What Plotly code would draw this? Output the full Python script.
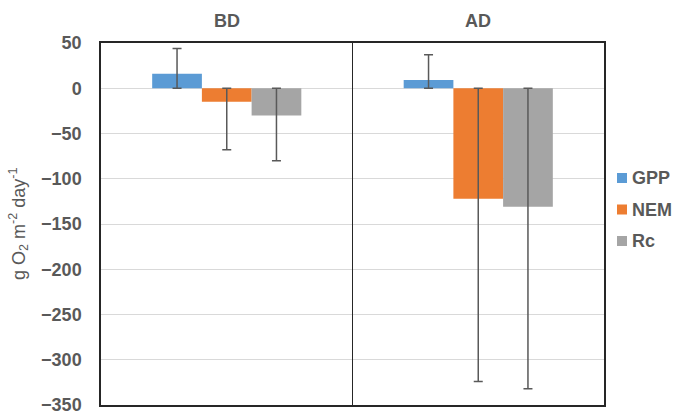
import plotly.graph_objects as go

# Periods and series
categories = ["BD", "AD"]
series_names = ["GPP", "NEM", "Rc"]
gpp = [16, 9]
nem = [-15, -122]
rc = [-30, -131]

# Ends of the error bars (one bar end sits on zero)
gpp_upper = [44, 37]
gpp_lower = [0, 0]
nem_upper = [0, 0]
nem_lower = [-68, -324]
rc_upper = [0, 0]
rc_lower = [-80, -332]

colors = ["#5B9BD5", "#ED7D31", "#A5A5A5"]
text_color = "#595959"
font_family = "Liberation Sans, Arial, sans-serif"

W, H = 673, 416
M_L, M_R, M_T, M_B = 101, 69, 43, 11
plot_w = W - M_L - M_R
plot_h = H - M_T - M_B

values = [gpp, nem, rc]
uppers = [gpp_upper, nem_upper, rc_upper]
lowers = [gpp_lower, nem_lower, rc_lower]

fig = go.Figure()
for name, vals, up, lo, col in zip(series_names, values, uppers, lowers, colors):
    fig.add_trace(go.Bar(
        x=categories,
        y=vals,
        name=name,
        marker=dict(color=col, line=dict(width=0)),
        showlegend=False,
        error_y=dict(
            type="data",
            symmetric=False,
            array=[u - v for u, v in zip(up, vals)],
            arrayminus=[v - l for v, l in zip(vals, lo)],
            color="#595959",
            thickness=1.5,
            width=4.5,
        ),
    ))

fig.update_layout(
    width=W,
    height=H,
    margin=dict(l=M_L, r=M_R, t=M_T, b=M_B, autoexpand=False),
    paper_bgcolor="white",
    plot_bgcolor="white",
    barmode="group",
    bargap=0.407,
    bargroupgap=0,
    font=dict(family=font_family, color=text_color, size=18),
)

fig.update_xaxes(
    showticklabels=False,
    ticks="",
    showgrid=False,
    showline=True,
    linecolor="#262626",
    linewidth=1.5,
    mirror=True,
    zeroline=False,
)

fig.update_yaxes(
    range=[-350, 50],
    dtick=50,
    tick0=0,
    ticks="",
    ticklabelstandoff=14,
    tickfont=dict(size=18, color=text_color, weight="bold"),
    showgrid=True,
    gridcolor="#D9D9D9",
    gridwidth=1,
    zeroline=True,
    zerolinecolor="#D9D9D9",
    zerolinewidth=1,
    showline=True,
    linecolor="#262626",
    linewidth=1.5,
    mirror=True,
)

# Divider between the two periods
fig.add_shape(
    type="line",
    xref="x", yref="paper",
    x0=0.5, x1=0.5, y0=0, y1=1,
    line=dict(color="#262626", width=1),
)

# Period headings above each panel
for cat in categories:
    fig.add_annotation(
        x=cat, xref="x",
        y=1, yref="paper",
        yanchor="bottom",
        yshift=10,
        text=cat,
        showarrow=False,
        font=dict(size=18, color=text_color, weight="bold"),
    )

# Compact legend to the right of the plot: colour swatch + bold label
def px_x(px):
    return (px - M_L) / plot_w

def px_y(py):
    return (H - M_B - py) / plot_h

legend_left, swatch, row0, row_step = 617, 10, 178, 31.5
for i, (name, col) in enumerate(zip(series_names, colors)):
    cy = row0 + i * row_step
    fig.add_shape(
        type="rect", xref="paper", yref="paper",
        x0=px_x(legend_left), x1=px_x(legend_left + swatch),
        y0=px_y(cy + swatch / 2), y1=px_y(cy - swatch / 2),
        fillcolor=col, line=dict(width=0),
    )
    fig.add_annotation(
        x=px_x(legend_left + swatch + 3), xref="paper",
        y=px_y(cy), yref="paper",
        xanchor="left", yanchor="middle",
        text=name,
        showarrow=False,
        font=dict(size=18, color=text_color, weight="bold"),
    )

# Y-axis title
fig.add_annotation(
    x=-0.165, xref="paper",
    y=0.5, yref="paper",
    xanchor="center", yanchor="middle",
    text="g O<sub>2</sub> m<sup>-2</sup> day<sup>-1</sup>",
    textangle=-90,
    showarrow=False,
    font=dict(size=18, color=text_color),
)

fig.write_html("out.html")
